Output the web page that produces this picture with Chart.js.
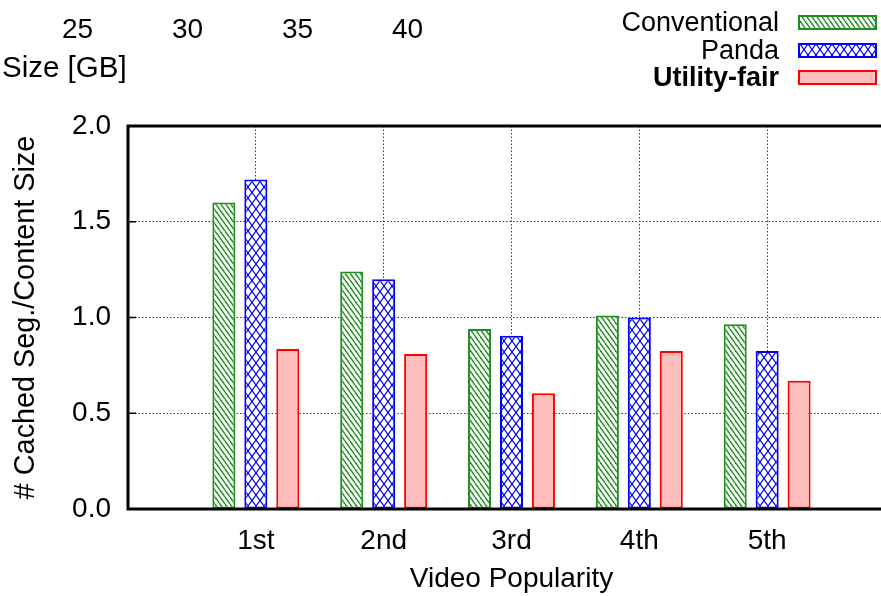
<!DOCTYPE html>
<html>
<head>
<meta charset="utf-8">
<title>Cached segments per content size</title>
<script src="https://cdn.jsdelivr.net/npm/chart.js@4.4.1/dist/chart.umd.min.js"></script>
<style>
  html, body { margin: 0; padding: 0; background: #fff; overflow: hidden; width: 881px; height: 596px; }
  #wrap { width: 881px; height: 596px; overflow: hidden; position: relative; }
  canvas { display: block; }
</style>
</head>
<body>
<div id="wrap"><canvas id="chart" width="900" height="596"></canvas></div>
<script>
// ---- data ----
const categories   = ['1st', '2nd', '3rd', '4th', '5th'];
const conventional = [1.60, 1.24, 0.94, 1.01, 0.965];
const panda        = [1.72, 1.20, 0.905, 1.00, 0.825];
const utilityFair  = [0.835, 0.81, 0.605, 0.825, 0.67];
const seriesNames  = ['Conventional', 'Panda', 'Utility-fair'];
const yTickLabels  = ['0.0', '0.5', '1.0', '1.5', '2.0'];
const sizeTicks    = ['25', '30', '35', '40'];
const sizeLabel    = 'Size [GB]';
const xTitle       = 'Video Popularity';
const yTitle       = '# Cached Seg./Content Size';

// ---- styling ----
const FONT = "'Liberation Sans', Arial, Helvetica, sans-serif";
const GREEN = 'rgb(30,140,30)';
const BLUE = 'rgb(0,0,255)';
const RED = 'rgb(255,0,0)';
const PINK = 'rgb(255,190,190)';
Chart.defaults.font.family = FONT;
Chart.defaults.color = '#000';

const canvas = document.getElementById('chart');
const ctx = canvas.getContext('2d');

// Hatch tiles on a white ground: single diagonal ("\") or crossed lines
function hatch(color, w, h, crossed, lw) {
  const tile = document.createElement('canvas');
  tile.width = w; tile.height = h;
  const g = tile.getContext('2d');
  g.fillStyle = '#fff';
  g.fillRect(0, 0, w, h);
  g.strokeStyle = color;
  g.lineWidth = lw;
  for (const k of [-1, 0, 1]) {
    g.beginPath(); g.moveTo(k * w, 0); g.lineTo(k * w + w, h); g.stroke();
    if (crossed) {
      g.beginPath(); g.moveTo(k * w + w, 0); g.lineTo(k * w, h); g.stroke();
    }
  }
  return ctx.createPattern(tile, 'repeat');
}

const greenHatch = hatch(GREEN, 5, 7, false, 1.4);
const blueCross = hatch(BLUE, 8, 11, true, 1.2);

// one empty slot on each side of the categories; the right one runs past the visible edge
const xLabels = ['', ...categories, ''];
const padded = arr => [null, ...arr, null];

// Box frame with inward y ticks, drawn over the bars
const framePlugin = {
  id: 'frame',
  afterDatasetsDraw(chart) {
    const { ctx, chartArea: { left, top, right, bottom } } = chart;
    const ys = chart.scales.y;
    ctx.save();
    ctx.strokeStyle = '#000';
    ctx.lineWidth = 1.5;
    ys.ticks.forEach(t => {
      const py = ys.getPixelForValue(t.value);
      ctx.beginPath();
      ctx.moveTo(left, py); ctx.lineTo(left + 8, py);
      ctx.moveTo(right, py); ctx.lineTo(right - 8, py);
      ctx.stroke();
    });
    ctx.lineWidth = 3;
    ctx.strokeRect(left, top, right - left, bottom - top);
    ctx.restore();
  }
};

// Size axis labels above the plot
const sizePlugin = {
  id: 'sizeLabels',
  afterDraw(chart) {
    const c = chart.ctx;
    c.save();
    c.fillStyle = '#000';
    c.font = `28px ${FONT}`;
    c.textBaseline = 'alphabetic';
    c.textAlign = 'center';
    sizeTicks.forEach((t, i) => c.fillText(t, 77.5 + i * 110, 38));
    c.textAlign = 'left';
    c.font = `29.5px ${FONT}`;
    c.fillText(sizeLabel, 2, 77);
    c.restore();
  }
};

// Legend: right-aligned names with a pattern swatch on their right
const legendPlugin = {
  id: 'boxLegend',
  afterDraw(chart) {
    const c = chart.ctx;
    const textRight = 779, boxX = 798, boxW = 79, boxH = 15;
    const rowBase = [31, 59, 86];
    c.save();
    chart.data.datasets.forEach((ds, i) => {
      const base = rowBase[i];
      c.font = `${ds.legendBold ? 'bold ' : ''}27px ${FONT}`;
      c.fillStyle = '#000';
      c.textAlign = 'right';
      c.textBaseline = 'alphabetic';
      c.fillText(ds.label, textRight, base);
      const by = base - 16;
      c.fillStyle = ds.backgroundColor;
      c.fillRect(boxX, by, boxW, boxH);
      c.strokeStyle = ds.borderColor;
      c.lineWidth = 2;
      c.strokeRect(boxX + 1, by + 1, boxW - 2, boxH - 2);
    });
    c.restore();
  }
};

new Chart(ctx, {
  type: 'bar',
  data: {
    labels: xLabels,
    datasets: [
      { label: seriesNames[0], data: padded(conventional), backgroundColor: greenHatch,
        borderColor: GREEN, borderWidth: 2, borderSkipped: false },
      { label: seriesNames[1], data: padded(panda), backgroundColor: blueCross,
        borderColor: BLUE, borderWidth: 2, borderSkipped: false },
      { label: seriesNames[2], data: padded(utilityFair), backgroundColor: PINK,
        borderColor: RED, borderWidth: 2, borderSkipped: false, legendBold: true }
    ]
  },
  options: {
    responsive: false,
    animation: false,
    layout: { padding: { top: 126, left: 0, right: 5, bottom: 0 } },
    datasets: { bar: { categoryPercentage: 0.75, barPercentage: 0.72 } },
    plugins: { legend: { display: false }, tooltip: { enabled: false } },
    scales: {
      x: {
        offset: false,
        // invisible tick marks only provide the gap below the axis
        grid: { offset: false, drawTicks: true, tickLength: 15, tickColor: 'rgba(0,0,0,0)',
                color: '#3a3a3a', lineWidth: 1 },
        border: { display: false, dash: [1.5, 2] },
        ticks: { padding: 0, font: { size: 28 }, maxRotation: 0, autoSkip: false },
        title: { display: true, text: xTitle, font: { size: 28 }, padding: { top: 0, bottom: 0 } },
        afterFit(scale) { scale.height = 87; }
      },
      y: {
        min: 0, max: 2,
        grid: { drawTicks: false, color: '#3a3a3a', lineWidth: 1 },
        border: { display: false, dash: [1.5, 2] },
        ticks: { stepSize: 0.5, padding: 17, font: { size: 28 },
                 callback: (v, i) => yTickLabels[i] },
        title: { display: true, text: yTitle, font: { size: 28.8 }, padding: { top: 9, bottom: 0 } },
        afterFit(scale) { scale.width = 128; }
      }
    }
  },
  plugins: [framePlugin, sizePlugin, legendPlugin]
});
</script>
</body>
</html>
